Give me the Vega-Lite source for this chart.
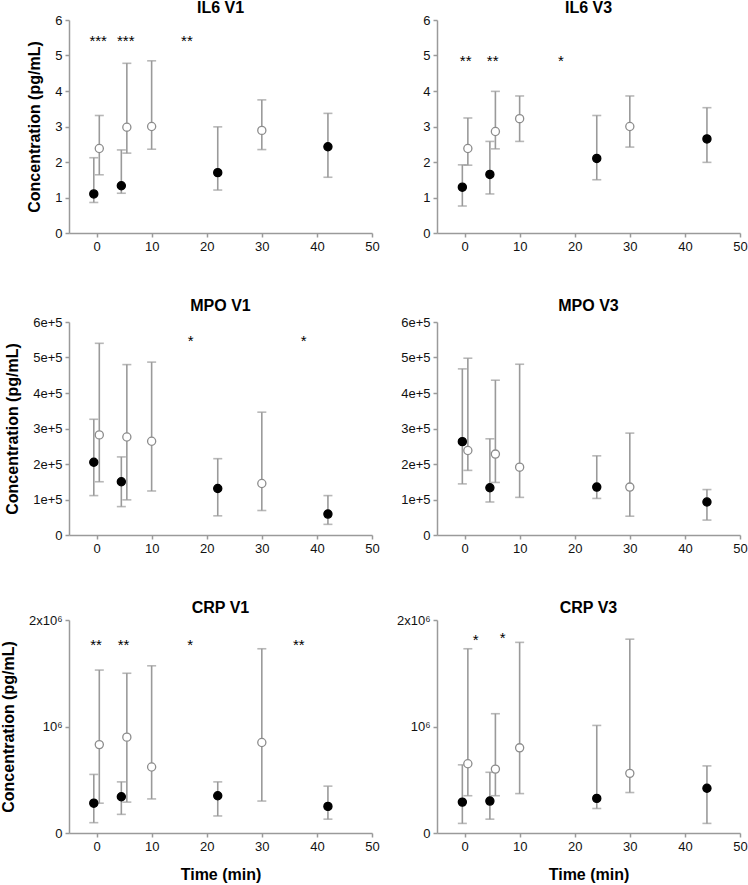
{
  "$schema": "https://vega.github.io/schema/vega-lite/v6.json",
  "padding": {"left": 0, "top": 0, "right": 2, "bottom": 2},
  "background": "white",
  "datasets": {
    "pts": [
      {"panel": "IL6 V1", "group": "Group 1", "time": -0.5, "mean": 1.10, "lo": 0.86, "hi": 2.12},
      {"panel": "IL6 V1", "group": "Group 1", "time": 4.5, "mean": 1.33, "lo": 1.12, "hi": 2.34},
      {"panel": "IL6 V1", "group": "Group 1", "time": 22, "mean": 1.70, "lo": 1.21, "hi": 2.99},
      {"panel": "IL6 V1", "group": "Group 1", "time": 42, "mean": 2.43, "lo": 1.57, "hi": 3.37},
      {"panel": "IL6 V1", "group": "Group 2", "time": 0.5, "mean": 2.38, "lo": 1.64, "hi": 3.31},
      {"panel": "IL6 V1", "group": "Group 2", "time": 5.5, "mean": 2.98, "lo": 2.25, "hi": 4.78},
      {"panel": "IL6 V1", "group": "Group 2", "time": 10, "mean": 3.00, "lo": 2.36, "hi": 4.85},
      {"panel": "IL6 V1", "group": "Group 2", "time": 30, "mean": 2.89, "lo": 2.35, "hi": 3.75},

      {"panel": "IL6 V3", "group": "Group 1", "time": -0.4, "mean": 1.29, "lo": 0.76, "hi": 1.92},
      {"panel": "IL6 V3", "group": "Group 1", "time": 4.6, "mean": 1.65, "lo": 1.10, "hi": 2.58},
      {"panel": "IL6 V3", "group": "Group 1", "time": 24, "mean": 2.10, "lo": 1.50, "hi": 3.31},
      {"panel": "IL6 V3", "group": "Group 1", "time": 44, "mean": 2.65, "lo": 1.99, "hi": 3.53},
      {"panel": "IL6 V3", "group": "Group 2", "time": 0.6, "mean": 2.38, "lo": 1.91, "hi": 3.24},
      {"panel": "IL6 V3", "group": "Group 2", "time": 5.6, "mean": 2.86, "lo": 2.37, "hi": 3.99},
      {"panel": "IL6 V3", "group": "Group 2", "time": 10, "mean": 3.22, "lo": 2.58, "hi": 3.86},
      {"panel": "IL6 V3", "group": "Group 2", "time": 30, "mean": 3.00, "lo": 2.42, "hi": 3.86},

      {"panel": "MPO V1", "group": "Group 1", "time": -0.5, "mean": 205000, "lo": 111000, "hi": 326000},
      {"panel": "MPO V1", "group": "Group 1", "time": 4.5, "mean": 150000, "lo": 80000, "hi": 220000},
      {"panel": "MPO V1", "group": "Group 1", "time": 22, "mean": 131000, "lo": 54000, "hi": 215000},
      {"panel": "MPO V1", "group": "Group 1", "time": 42, "mean": 59000, "lo": 30000, "hi": 111000},
      {"panel": "MPO V1", "group": "Group 2", "time": 0.5, "mean": 282000, "lo": 150000, "hi": 540000},
      {"panel": "MPO V1", "group": "Group 2", "time": 5.5, "mean": 276000, "lo": 99000, "hi": 480000},
      {"panel": "MPO V1", "group": "Group 2", "time": 10, "mean": 264000, "lo": 124000, "hi": 487000},
      {"panel": "MPO V1", "group": "Group 2", "time": 30, "mean": 145000, "lo": 69000, "hi": 346000},

      {"panel": "MPO V3", "group": "Group 1", "time": -0.4, "mean": 263000, "lo": 144000, "hi": 468000},
      {"panel": "MPO V3", "group": "Group 1", "time": 4.6, "mean": 133000, "lo": 93000, "hi": 271000},
      {"panel": "MPO V3", "group": "Group 1", "time": 24, "mean": 135000, "lo": 103000, "hi": 223000},
      {"panel": "MPO V3", "group": "Group 1", "time": 44, "mean": 93000, "lo": 42000, "hi": 128000},
      {"panel": "MPO V3", "group": "Group 2", "time": 0.6, "mean": 238000, "lo": 182000, "hi": 498000},
      {"panel": "MPO V3", "group": "Group 2", "time": 5.6, "mean": 228000, "lo": 148000, "hi": 436000},
      {"panel": "MPO V3", "group": "Group 2", "time": 10, "mean": 191000, "lo": 106000, "hi": 481000},
      {"panel": "MPO V3", "group": "Group 2", "time": 30, "mean": 135000, "lo": 53000, "hi": 287000},

      {"panel": "CRP V1", "group": "Group 1", "time": -0.5, "mean": 280000, "lo": 97000, "hi": 550000},
      {"panel": "CRP V1", "group": "Group 1", "time": 4.5, "mean": 340000, "lo": 175000, "hi": 480000},
      {"panel": "CRP V1", "group": "Group 1", "time": 22, "mean": 350000, "lo": 160000, "hi": 480000},
      {"panel": "CRP V1", "group": "Group 1", "time": 42, "mean": 250000, "lo": 130000, "hi": 440000},
      {"panel": "CRP V1", "group": "Group 2", "time": 0.5, "mean": 830000, "lo": 280000, "hi": 1530000},
      {"panel": "CRP V1", "group": "Group 2", "time": 5.5, "mean": 900000, "lo": 290000, "hi": 1500000},
      {"panel": "CRP V1", "group": "Group 2", "time": 10, "mean": 620000, "lo": 320000, "hi": 1570000},
      {"panel": "CRP V1", "group": "Group 2", "time": 30, "mean": 850000, "lo": 300000, "hi": 1730000},

      {"panel": "CRP V3", "group": "Group 1", "time": -0.4, "mean": 290000, "lo": 90000, "hi": 640000},
      {"panel": "CRP V3", "group": "Group 1", "time": 4.6, "mean": 300000, "lo": 130000, "hi": 570000},
      {"panel": "CRP V3", "group": "Group 1", "time": 24, "mean": 325000, "lo": 230000, "hi": 1010000},
      {"panel": "CRP V3", "group": "Group 1", "time": 44, "mean": 420000, "lo": 90000, "hi": 630000},
      {"panel": "CRP V3", "group": "Group 2", "time": 0.6, "mean": 650000, "lo": 350000, "hi": 1730000},
      {"panel": "CRP V3", "group": "Group 2", "time": 5.6, "mean": 600000, "lo": 350000, "hi": 1120000},
      {"panel": "CRP V3", "group": "Group 2", "time": 10, "mean": 800000, "lo": 370000, "hi": 1790000},
      {"panel": "CRP V3", "group": "Group 2", "time": 30, "mean": 560000, "lo": 380000, "hi": 1820000}
    ],
    "stars": [
      {"panel": "IL6 V1", "time": 0.3, "y": 5.5, "label": "***"},
      {"panel": "IL6 V1", "time": 5.3, "y": 5.5, "label": "***"},
      {"panel": "IL6 V1", "time": 16.4, "y": 5.5, "label": "**"},
      {"panel": "IL6 V3", "time": 0.2, "y": 4.92, "label": "**"},
      {"panel": "IL6 V3", "time": 5.1, "y": 4.92, "label": "**"},
      {"panel": "IL6 V3", "time": 17.5, "y": 4.92, "label": "*"},
      {"panel": "MPO V1", "time": 17.1, "y": 554000, "label": "*"},
      {"panel": "MPO V1", "time": 37.6, "y": 554000, "label": "*"},
      {"panel": "CRP V1", "time": -0.1, "y": 1790000, "label": "**"},
      {"panel": "CRP V1", "time": 4.9, "y": 1790000, "label": "**"},
      {"panel": "CRP V1", "time": 17, "y": 1790000, "label": "*"},
      {"panel": "CRP V1", "time": 36.7, "y": 1790000, "label": "**"},
      {"panel": "CRP V3", "time": 2.0, "y": 1840000, "label": "*"},
      {"panel": "CRP V3", "time": 6.9, "y": 1860000, "label": "*"}
    ]
  },
  "columns": 2,
  "align": "each",
  "spacing": {"row": 45, "column": 16},
  "concat": [
    {
      "title": "IL6 V1", "width": 303, "height": 213,
      "encoding": {"x": {"field": "time", "type": "quantitative", "scale": {"domain": [-5, 50], "nice": false, "zero": false}, "axis": {"values": [0, 10, 20, 30, 40, 50], "title": null}}},
      "layer": [
        {"data": {"name": "pts"}, "transform": [{"filter": "datum.panel == 'IL6 V1'"}],
         "mark": {"type": "errorbar", "ticks": {"size": 9}, "color": "#9a9a9a", "thickness": 1.6},
         "encoding": {"y": {"field": "lo", "type": "quantitative", "scale": {"domain": [0, 6], "nice": false}, "axis": {"values": [0, 1, 2, 3, 4, 5, 6], "title": "Concentration (pg/mL)"}}, "y2": {"field": "hi"}}},
        {"data": {"name": "pts"}, "transform": [{"filter": "datum.panel == 'IL6 V1'"}],
         "mark": {"type": "point", "shape": "circle", "filled": true, "size": 66, "strokeWidth": 1.3, "opacity": 1},
         "encoding": {"y": {"field": "mean", "type": "quantitative", "axis": {"values": [0, 1, 2, 3, 4, 5, 6], "title": "Concentration (pg/mL)"}},
           "fill": {"field": "group", "type": "nominal", "scale": {"domain": ["Group 1", "Group 2"], "range": ["#000000", "#ffffff"]}, "legend": null},
           "stroke": {"field": "group", "type": "nominal", "scale": {"domain": ["Group 1", "Group 2"], "range": ["#000000", "#8c8c8c"]}, "legend": null}}},
        {"data": {"name": "stars"}, "transform": [{"filter": "datum.panel == 'IL6 V1'"}],
         "mark": {"type": "text", "fontSize": 15, "font": "Liberation Sans", "baseline": "middle", "dy": 3, "color": "#000"},
         "encoding": {"y": {"field": "y", "type": "quantitative", "axis": {"values": [0, 1, 2, 3, 4, 5, 6], "title": "Concentration (pg/mL)"}}, "text": {"field": "label"}}}
      ]
    },
    {
      "title": "IL6 V3", "width": 303, "height": 213,
      "encoding": {"x": {"field": "time", "type": "quantitative", "scale": {"domain": [-5, 50], "nice": false, "zero": false}, "axis": {"values": [0, 10, 20, 30, 40, 50], "title": null}}},
      "layer": [
        {"data": {"name": "pts"}, "transform": [{"filter": "datum.panel == 'IL6 V3'"}],
         "mark": {"type": "errorbar", "ticks": {"size": 9}, "color": "#9a9a9a", "thickness": 1.6},
         "encoding": {"y": {"field": "lo", "type": "quantitative", "scale": {"domain": [0, 6], "nice": false}, "axis": {"values": [0, 1, 2, 3, 4, 5, 6], "title": null}}, "y2": {"field": "hi"}}},
        {"data": {"name": "pts"}, "transform": [{"filter": "datum.panel == 'IL6 V3'"}],
         "mark": {"type": "point", "shape": "circle", "filled": true, "size": 66, "strokeWidth": 1.3, "opacity": 1},
         "encoding": {"y": {"field": "mean", "type": "quantitative", "axis": {"values": [0, 1, 2, 3, 4, 5, 6], "title": null}},
           "fill": {"field": "group", "type": "nominal", "scale": {"domain": ["Group 1", "Group 2"], "range": ["#000000", "#ffffff"]}, "legend": null},
           "stroke": {"field": "group", "type": "nominal", "scale": {"domain": ["Group 1", "Group 2"], "range": ["#000000", "#8c8c8c"]}, "legend": null}}},
        {"data": {"name": "stars"}, "transform": [{"filter": "datum.panel == 'IL6 V3'"}],
         "mark": {"type": "text", "fontSize": 15, "font": "Liberation Sans", "baseline": "middle", "dy": 3, "color": "#000"},
         "encoding": {"y": {"field": "y", "type": "quantitative", "axis": {"values": [0, 1, 2, 3, 4, 5, 6], "title": null}}, "text": {"field": "label"}}}
      ]
    },
    {
      "title": {"text": "MPO V1", "offset": 2}, "width": 303, "height": 213,
      "encoding": {"x": {"field": "time", "type": "quantitative", "scale": {"domain": [-5, 50], "nice": false, "zero": false}, "axis": {"values": [0, 10, 20, 30, 40, 50], "title": null}}},
      "layer": [
        {"data": {"name": "pts"}, "transform": [{"filter": "datum.panel == 'MPO V1'"}],
         "mark": {"type": "errorbar", "ticks": {"size": 9}, "color": "#9a9a9a", "thickness": 1.6},
         "encoding": {"y": {"field": "lo", "type": "quantitative", "scale": {"domain": [0, 600000], "nice": false}, "axis": {"values": [0, 100000, 200000, 300000, 400000, 500000, 600000], "labelExpr": "datum.value == 0 ? '0' : format(datum.value / 100000, 'd') + 'e+5'", "title": "Concentration (pg/mL)"}}, "y2": {"field": "hi"}}},
        {"data": {"name": "pts"}, "transform": [{"filter": "datum.panel == 'MPO V1'"}],
         "mark": {"type": "point", "shape": "circle", "filled": true, "size": 66, "strokeWidth": 1.3, "opacity": 1},
         "encoding": {"y": {"field": "mean", "type": "quantitative", "axis": {"values": [0, 100000, 200000, 300000, 400000, 500000, 600000], "labelExpr": "datum.value == 0 ? '0' : format(datum.value / 100000, 'd') + 'e+5'", "title": "Concentration (pg/mL)"}},
           "fill": {"field": "group", "type": "nominal", "scale": {"domain": ["Group 1", "Group 2"], "range": ["#000000", "#ffffff"]}, "legend": null},
           "stroke": {"field": "group", "type": "nominal", "scale": {"domain": ["Group 1", "Group 2"], "range": ["#000000", "#8c8c8c"]}, "legend": null}}},
        {"data": {"name": "stars"}, "transform": [{"filter": "datum.panel == 'MPO V1'"}],
         "mark": {"type": "text", "fontSize": 15, "font": "Liberation Sans", "baseline": "middle", "dy": 3, "color": "#000"},
         "encoding": {"y": {"field": "y", "type": "quantitative", "axis": {"values": [0, 100000, 200000, 300000, 400000, 500000, 600000], "labelExpr": "datum.value == 0 ? '0' : format(datum.value / 100000, 'd') + 'e+5'", "title": "Concentration (pg/mL)"}}, "text": {"field": "label"}}}
      ]
    },
    {
      "title": {"text": "MPO V3", "offset": 2}, "width": 303, "height": 213,
      "encoding": {"x": {"field": "time", "type": "quantitative", "scale": {"domain": [-5, 50], "nice": false, "zero": false}, "axis": {"values": [0, 10, 20, 30, 40, 50], "title": null}}},
      "layer": [
        {"data": {"name": "pts"}, "transform": [{"filter": "datum.panel == 'MPO V3'"}],
         "mark": {"type": "errorbar", "ticks": {"size": 9}, "color": "#9a9a9a", "thickness": 1.6},
         "encoding": {"y": {"field": "lo", "type": "quantitative", "scale": {"domain": [0, 600000], "nice": false}, "axis": {"values": [0, 100000, 200000, 300000, 400000, 500000, 600000], "labelExpr": "datum.value == 0 ? '0' : format(datum.value / 100000, 'd') + 'e+5'", "title": null}}, "y2": {"field": "hi"}}},
        {"data": {"name": "pts"}, "transform": [{"filter": "datum.panel == 'MPO V3'"}],
         "mark": {"type": "point", "shape": "circle", "filled": true, "size": 66, "strokeWidth": 1.3, "opacity": 1},
         "encoding": {"y": {"field": "mean", "type": "quantitative", "axis": {"values": [0, 100000, 200000, 300000, 400000, 500000, 600000], "labelExpr": "datum.value == 0 ? '0' : format(datum.value / 100000, 'd') + 'e+5'", "title": null}},
           "fill": {"field": "group", "type": "nominal", "scale": {"domain": ["Group 1", "Group 2"], "range": ["#000000", "#ffffff"]}, "legend": null},
           "stroke": {"field": "group", "type": "nominal", "scale": {"domain": ["Group 1", "Group 2"], "range": ["#000000", "#8c8c8c"]}, "legend": null}}}
      ]
    },
    {
      "title": "CRP V1", "width": 303, "height": 213,
      "encoding": {"x": {"field": "time", "type": "quantitative", "scale": {"domain": [-5, 50], "nice": false, "zero": false}, "axis": {"values": [0, 10, 20, 30, 40, 50], "title": "Time (min)", "titlePadding": 13}}},
      "layer": [
        {"data": {"name": "pts"}, "transform": [{"filter": "datum.panel == 'CRP V1'"}],
         "mark": {"type": "errorbar", "ticks": {"size": 9}, "color": "#9a9a9a", "thickness": 1.6},
         "encoding": {"y": {"field": "lo", "type": "quantitative", "scale": {"domain": [0, 2000000], "nice": false}, "axis": {"values": [0, 1000000, 2000000], "labelExpr": "datum.value == 0 ? '0' : (datum.value == 1000000 ? '10⁶' : '2x10⁶')", "title": "Concentration (pg/mL)"}}, "y2": {"field": "hi"}}},
        {"data": {"name": "pts"}, "transform": [{"filter": "datum.panel == 'CRP V1'"}],
         "mark": {"type": "point", "shape": "circle", "filled": true, "size": 66, "strokeWidth": 1.3, "opacity": 1},
         "encoding": {"y": {"field": "mean", "type": "quantitative", "axis": {"values": [0, 1000000, 2000000], "labelExpr": "datum.value == 0 ? '0' : (datum.value == 1000000 ? '10⁶' : '2x10⁶')", "title": "Concentration (pg/mL)"}},
           "fill": {"field": "group", "type": "nominal", "scale": {"domain": ["Group 1", "Group 2"], "range": ["#000000", "#ffffff"]}, "legend": null},
           "stroke": {"field": "group", "type": "nominal", "scale": {"domain": ["Group 1", "Group 2"], "range": ["#000000", "#8c8c8c"]}, "legend": null}}},
        {"data": {"name": "stars"}, "transform": [{"filter": "datum.panel == 'CRP V1'"}],
         "mark": {"type": "text", "fontSize": 15, "font": "Liberation Sans", "baseline": "middle", "dy": 3, "color": "#000"},
         "encoding": {"y": {"field": "y", "type": "quantitative", "axis": {"values": [0, 1000000, 2000000], "labelExpr": "datum.value == 0 ? '0' : (datum.value == 1000000 ? '10⁶' : '2x10⁶')", "title": "Concentration (pg/mL)"}}, "text": {"field": "label"}}}
      ]
    },
    {
      "title": "CRP V3", "width": 303, "height": 213,
      "encoding": {"x": {"field": "time", "type": "quantitative", "scale": {"domain": [-5, 50], "nice": false, "zero": false}, "axis": {"values": [0, 10, 20, 30, 40, 50], "title": "Time (min)", "titlePadding": 13}}},
      "layer": [
        {"data": {"name": "pts"}, "transform": [{"filter": "datum.panel == 'CRP V3'"}],
         "mark": {"type": "errorbar", "ticks": {"size": 9}, "color": "#9a9a9a", "thickness": 1.6},
         "encoding": {"y": {"field": "lo", "type": "quantitative", "scale": {"domain": [0, 2000000], "nice": false}, "axis": {"values": [0, 1000000, 2000000], "labelExpr": "datum.value == 0 ? '0' : (datum.value == 1000000 ? '10⁶' : '2x10⁶')", "title": null}}, "y2": {"field": "hi"}}},
        {"data": {"name": "pts"}, "transform": [{"filter": "datum.panel == 'CRP V3'"}],
         "mark": {"type": "point", "shape": "circle", "filled": true, "size": 66, "strokeWidth": 1.3, "opacity": 1},
         "encoding": {"y": {"field": "mean", "type": "quantitative", "axis": {"values": [0, 1000000, 2000000], "labelExpr": "datum.value == 0 ? '0' : (datum.value == 1000000 ? '10⁶' : '2x10⁶')", "title": null}},
           "fill": {"field": "group", "type": "nominal", "scale": {"domain": ["Group 1", "Group 2"], "range": ["#000000", "#ffffff"]}, "legend": null},
           "stroke": {"field": "group", "type": "nominal", "scale": {"domain": ["Group 1", "Group 2"], "range": ["#000000", "#8c8c8c"]}, "legend": null}}},
        {"data": {"name": "stars"}, "transform": [{"filter": "datum.panel == 'CRP V3'"}],
         "mark": {"type": "text", "fontSize": 15, "font": "Liberation Sans", "baseline": "middle", "dy": 3, "color": "#000"},
         "encoding": {"y": {"field": "y", "type": "quantitative", "axis": {"values": [0, 1000000, 2000000], "labelExpr": "datum.value == 0 ? '0' : (datum.value == 1000000 ? '10⁶' : '2x10⁶')", "title": null}}, "text": {"field": "label"}}}
      ]
    }
  ],
  "config": {
    "view": {"stroke": null},
    "font": "Liberation Sans",
    "title": {"font": "Liberation Sans", "fontSize": 16, "fontWeight": "bold", "color": "#000", "offset": -2},
    "axis": {"grid": false, "domainColor": "#9a9a9a", "domainWidth": 1.5, "tickColor": "#9a9a9a", "tickWidth": 1.5, "tickSize": 4, "labelFont": "Liberation Sans", "labelFontSize": 13, "labelColor": "#111", "labelPadding": 3, "titleFont": "Liberation Sans", "titleFontSize": 16, "titleFontWeight": "bold", "titleColor": "#000", "titlePadding": 12, "labelFlush": false, "labelOverlap": false}
  }
}
